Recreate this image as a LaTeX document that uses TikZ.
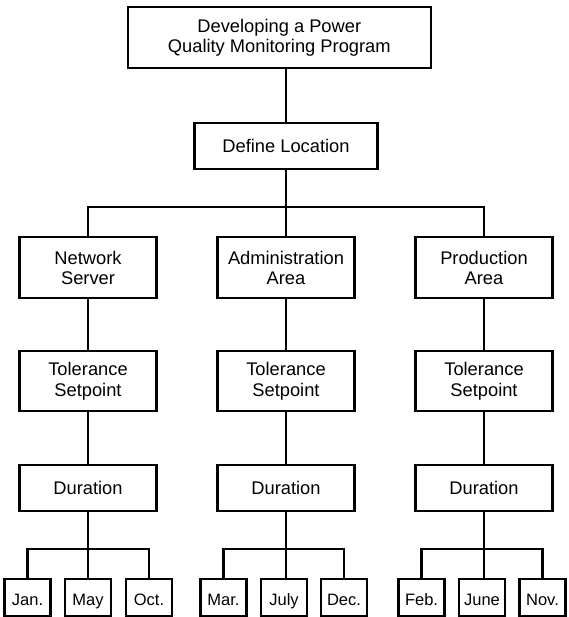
\documentclass[tikz,border=0pt]{standalone}
\usepackage{fontspec}
\setmainfont{Liberation Sans}
\begin{document}
\begin{tikzpicture}[x=1pt,y=-1pt,line width=2.3pt,
  box/.style={draw,line width=2.3pt,inner sep=0pt,align=center,
    font=\fontsize{18.3}{20.5}\selectfont},
  lvl/.style={box,minimum width=137pt,minimum height=61pt},
  dur/.style={box,minimum width=137pt,minimum height=46pt},
  mbox/.style={draw,line width=2.3pt,inner sep=0pt,minimum width=46pt,minimum height=36.5pt,
    text height=17pt,text depth=1pt,font=\fontsize{16.5}{19}\selectfont}]
\useasboundingbox (0,0) rectangle (568,617);

\node[box,minimum width=303pt,minimum height=61pt] (top) at (279.3,37.8) {Developing a Power\\Quality Monitoring Program};
\node[box,minimum width=183pt,minimum height=46pt] (def) at (286,146.2) {Define Location};

\node[lvl] (net) at (88,267.8) {Network\\Server};
\node[lvl] (adm) at (286,267.8) {Administration\\Area};
\node[lvl] (pro) at (484,267.8) {Production\\Area};

\node[lvl,minimum height=60pt] (tol1) at (88,381.2) {Tolerance\\Setpoint};
\node[lvl,minimum height=60pt] (tol2) at (286,381.2) {Tolerance\\Setpoint};
\node[lvl,minimum height=60pt] (tol3) at (484,381.2) {Tolerance\\Setpoint};

\node[dur] (dur1) at (88,488.2) {Duration};
\node[dur] (dur2) at (286,488.2) {Duration};
\node[dur] (dur3) at (484,488.2) {Duration};

\node[mbox] (jan) at (27.5,597.5) {Jan.};
\node[mbox] (may) at (88,597.5) {May};
\node[mbox] (oct) at (149,597.5) {Oct.};
\node[mbox] (mar) at (223.5,597.5) {Mar.};
\node[mbox] (jul) at (284,597.5) {July};
\node[mbox] (dec) at (344,597.5) {Dec.};
\node[mbox] (feb) at (421.5,597.5) {Feb.};
\node[mbox] (jun) at (482,597.5) {June};
\node[mbox] (nov) at (542.5,597.5) {Nov.};

\coordinate (b) at (286,207);
\coordinate (s1) at (88,549);
\coordinate (s2) at (286,549);
\coordinate (s3) at (484,549);

\draw (top.south -| def.north) -- (def.north);
\draw (def.south) -- (adm.north);
\draw (net.north) |- (b) -| (pro.north);

\draw (net.south) -- (tol1.north);
\draw (adm.south) -- (tol2.north);
\draw (pro.south) -- (tol3.north);
\draw (tol1.south) -- (dur1.north);
\draw (tol2.south) -- (dur2.north);
\draw (tol3.south) -- (dur3.north);

\draw (dur1.south) -- (dur1.south |- may.north);
\draw (jan.north) |- (s1) -| (oct.north);
\draw (dur2.south) -- (dur2.south |- jul.north);
\draw (mar.north) |- (s2) -| (dec.north);
\draw (dur3.south) -- (dur3.south |- jun.north);
\draw (feb.north) |- (s3) -| (nov.north);
\end{tikzpicture}
\end{document}
